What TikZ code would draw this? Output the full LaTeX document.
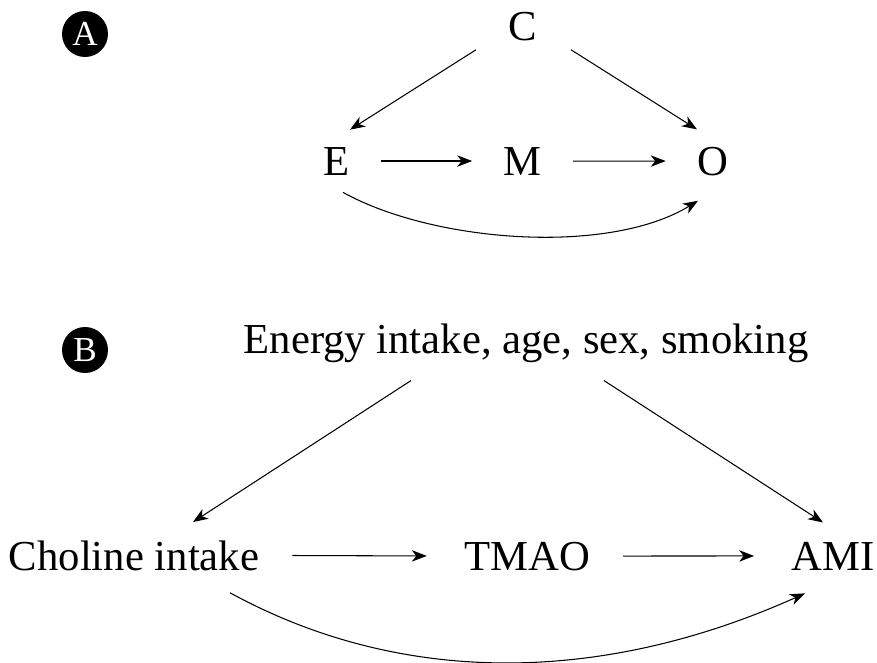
\documentclass[tikz,border=0pt]{standalone}
\usepackage{fontspec}
\setmainfont{Liberation Serif}
\usetikzlibrary{arrows.meta}

\begin{document}
\begin{tikzpicture}[
    x=0.02cm, y=-0.02cm,
    font=\fontsize{24.3}{29}\selectfont,
    var/.style={inner sep=0pt, anchor=base},
    tag/.style={circle, fill=black, text=white, inner sep=0pt, minimum size=0.92cm,
                font=\fontsize{20}{24}\selectfont},
    arr/.style={-{Stealth[length=8.5pt, width=6.5pt, inset=2.5pt]}, line width=0.6pt},
    gapA/.style={arr, shorten <=0.62cm, shorten >=0.62cm},
    gapB/.style={arr, shorten <=0.66cm, shorten >=0.74cm}]

  \useasboundingbox (0,0) rectangle (877,663);

  % ---- panel A: generic mediation graph ---------------------------------
  \node[tag] (tagA) at (85, 34)      {A};
  \node[var] (C)    at (522.5, 40)   {C};
  \node[var] (E)    at (336.5, 175)  {E};
  \node[var] (M)    at (522.5, 175)  {M};
  \node[var] (O)    at (712.5, 175)  {O};
  \draw[arr] ([shift={(-46.5,9)}]C.south) -- ([shift={(13.5,-17)}]E.north);
  \draw[arr] ([shift={(48.5,9)}]C.south)  -- ([shift={(-15.5,-17)}]O.north);
  \draw[gapA] (E.east) -- (M.west);
  \draw[gapA] (M.east) -- (O.west);
  \draw[arr] ([shift={(6.5,17)}]E.south)
      .. controls +(90,50) and +(-90,55) .. ([shift={(-14.5,25)}]O.south);

  % ---- panel B: choline / TMAO / AMI ------------------------------------
  \node[tag] (tagB) at (85, 350)     {B};
  \node[var] (conf) at (526, 353)    {Energy intake, age, sex, smoking};
  \node[var] (chol) at (134, 570)    {Choline intake};
  \node[var] (tmao) at (527, 570)    {TMAO};
  \node[var] (ami)  at (833, 570)    {AMI};
  \draw[arr] ([shift={(-115,18)}]conf.south) -- ([shift={(59,-18)}]chol.north);
  \draw[arr] ([shift={(78,18)}]conf.south)   -- ([shift={(-10,-19)}]ami.north);
  \draw[gapB] (chol.east) -- (tmao.west);
  \draw[gapB] (tmao.east) -- (ami.west);
  \draw[arr] ([shift={(96,22)}]chol.south)
      .. controls +(170,93) and +(-205,92) .. ([shift={(-28,23)}]ami.south);
\end{tikzpicture}
\end{document}
